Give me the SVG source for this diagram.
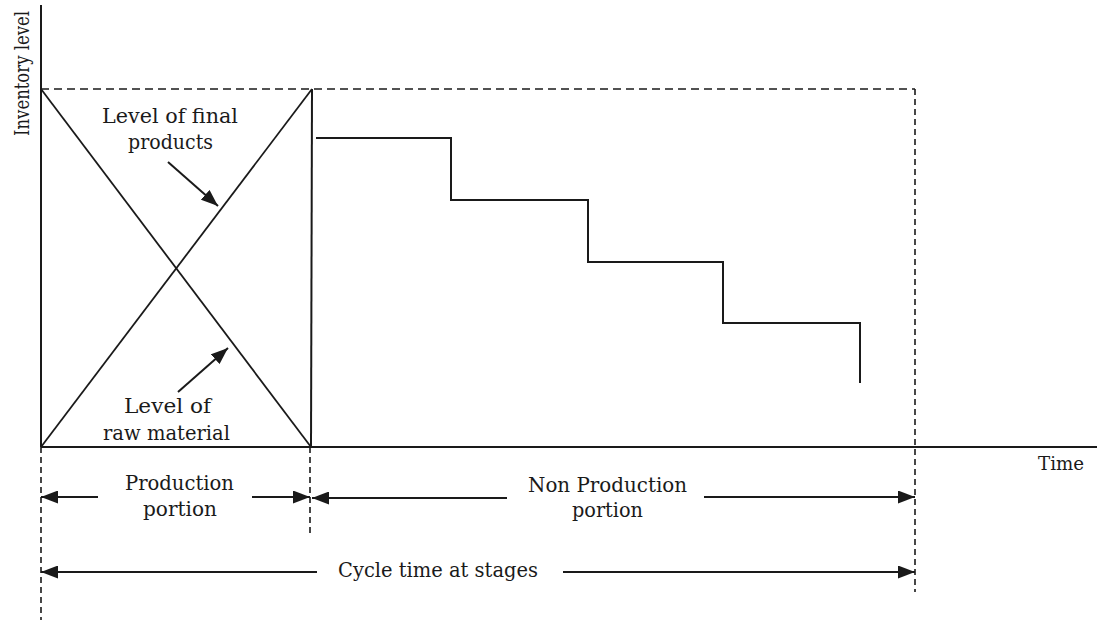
<svg xmlns="http://www.w3.org/2000/svg" width="1097" height="620" viewBox="0 0 1097 620">
  <style>
    .solid { stroke: #1a1a1a; stroke-width: 2; fill: none; }
    .thin { stroke: #1a1a1a; stroke-width: 1.8; fill: none; }
    .dash-h { stroke: #1a1a1a; stroke-width: 1.6; fill: none; stroke-dasharray: 8 5; }
    .dash-v { stroke: #1a1a1a; stroke-width: 1.6; fill: none; stroke-dasharray: 6 4; }
    .arrow { stroke: #1a1a1a; stroke-width: 2; fill: none; marker-end: url(#head); }
    .lbl { font-family: "DejaVu Serif", "Liberation Serif", serif; font-size: 20px; fill: #1a1a1a; }
    .small { font-size: 18px; }
  </style>
  <defs>
    <marker id="head" markerUnits="userSpaceOnUse" markerWidth="18" markerHeight="13" refX="17" refY="6.5" orient="auto">
      <path d="M0,0 L17,6.5 L0,13 Z" fill="#1a1a1a"/>
    </marker>
  </defs>
  <rect width="1097" height="620" fill="#ffffff"/>

  <!-- axes -->
  <g id="axes">
    <line class="solid" x1="41" y1="5" x2="41" y2="447"/>
    <line class="solid" x1="41" y1="447" x2="1097" y2="447"/>
    <text class="lbl" transform="translate(29,136) rotate(-90)" textLength="125" lengthAdjust="spacingAndGlyphs">Inventory level</text>
    <text class="lbl small" x="1038" y="470" textLength="46" lengthAdjust="spacingAndGlyphs">Time</text>
  </g>

  <!-- bounding guides -->
  <g id="guides">
    <line class="dash-h" x1="41" y1="89" x2="915" y2="89"/>
    <line class="dash-v" x1="915" y1="89" x2="915" y2="592"/>
    <line class="dash-v" x1="41" y1="447" x2="41" y2="620"/>
    <line class="dash-v" x1="310" y1="447" x2="310" y2="533"/>
  </g>

  <!-- production portion: crossing inventory levels -->
  <g id="production">
    <line class="thin" x1="41" y1="89" x2="311" y2="447"/>
    <line class="thin" x1="41" y1="447" x2="312" y2="89"/>
    <line class="solid" x1="312" y1="89" x2="311" y2="447"/>
  </g>

  <!-- non-production portion: stepped depletion -->
  <g id="staircase">
    <path class="solid" d="M316,138 H451 V200 H588 V262 H723 V323 H860 V383"/>
  </g>

  <g id="label-final">
    <text class="lbl" x="102" y="123" textLength="136" lengthAdjust="spacingAndGlyphs">Level of final</text>
    <text class="lbl" x="128" y="149" textLength="85" lengthAdjust="spacingAndGlyphs">products</text>
  </g>

  <g id="label-raw">
    <text class="lbl" x="124" y="413" textLength="87" lengthAdjust="spacingAndGlyphs">Level of</text>
    <text class="lbl" x="103" y="440" textLength="127" lengthAdjust="spacingAndGlyphs">raw material</text>
  </g>

  <g id="label-production">
    <text class="lbl" x="125" y="490" textLength="109" lengthAdjust="spacingAndGlyphs">Production</text>
    <text class="lbl" x="143" y="516" textLength="74" lengthAdjust="spacingAndGlyphs">portion</text>
  </g>

  <g id="label-nonproduction">
    <text class="lbl" x="528" y="492" textLength="159" lengthAdjust="spacingAndGlyphs">Non Production</text>
    <text class="lbl" x="572" y="517" textLength="71" lengthAdjust="spacingAndGlyphs">portion</text>
  </g>

  <g id="label-cycle">
    <text class="lbl" x="338" y="577" textLength="200" lengthAdjust="spacingAndGlyphs">Cycle time at stages</text>
  </g>

  <!-- connectors -->
  <g id="connectors">
    <line class="arrow" x1="168" y1="162" x2="218" y2="206"/>
    <line class="arrow" x1="178" y1="392" x2="228" y2="348"/>
    <line class="arrow" x1="98" y1="497" x2="41" y2="497"/>
    <line class="arrow" x1="252" y1="497" x2="310" y2="497"/>
    <line class="arrow" x1="507" y1="498" x2="312" y2="498"/>
    <line class="arrow" x1="704" y1="497" x2="915" y2="497"/>
    <line class="arrow" x1="317" y1="572" x2="41" y2="572"/>
    <line class="arrow" x1="563" y1="572" x2="915" y2="572"/>
  </g>
</svg>
